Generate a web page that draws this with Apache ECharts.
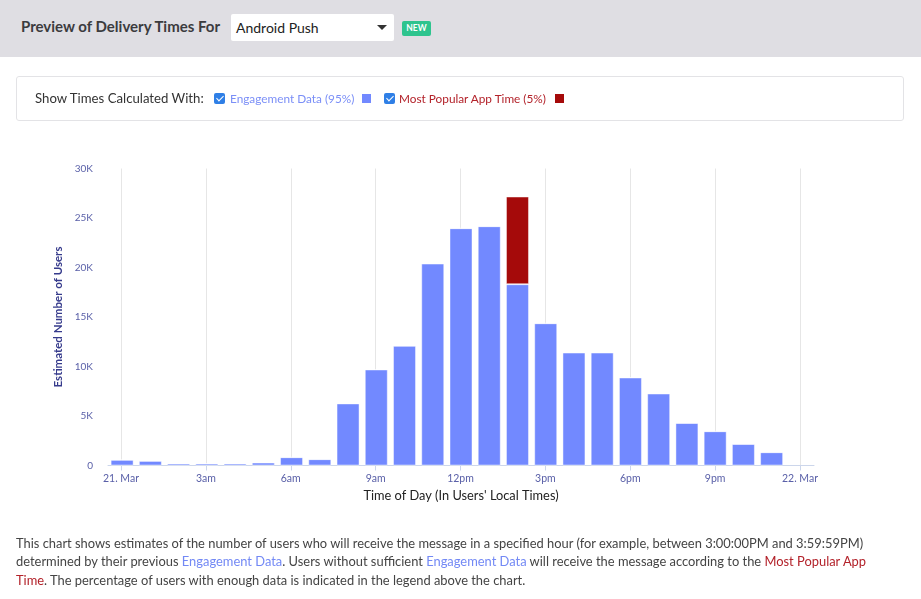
<!DOCTYPE html>
<html>
<head>
<meta charset="utf-8">
<script src="https://cdn.jsdelivr.net/npm/echarts@6/dist/echarts.min.js"></script>
<style>
  html, body { margin: 0; padding: 0; width: 921px; height: 599px; background: #fff; overflow: hidden; font-family: Lato, "Noto Sans", sans-serif; }
  #chart { position: absolute; left: 0; top: 0; width: 921px; height: 599px; }
  .hdr { position: absolute; left: 0; top: 0; width: 921px; height: 57px; background: #dfdee3; }
  .hdr-title { position: absolute; left: 21px; top: 17px; font-size: 15px; font-weight: 700; color: #3b3b3e; white-space: nowrap; }
  .select { position: absolute; left: 231px; top: 14px; width: 163px; height: 27px; background: #fff; border-radius: 2px; }
  .select span { position: absolute; left: 5px; top: 5px; font-size: 14px; color: #222; white-space: nowrap; }
  .caret { position: absolute; left: 146px; top: 11px; width: 0; height: 0; border-left: 5px solid transparent; border-right: 5px solid transparent; border-top: 5px solid #333; }
  .badge { position: absolute; left: 402px; top: 21px; width: 29px; height: 15px; background: #2ec48e; border-radius: 2px; color: #fff; font-size: 8.5px; font-weight: 700; text-align: center; line-height: 15px; }
  .legend { position: absolute; left: 16px; top: 76px; width: 888px; height: 45px; border: 1px solid #e3e3e6; border-radius: 3px; box-sizing: border-box; }
  .lg { position: absolute; top: 91px; font-size: 11.8px; white-space: nowrap; line-height: 16px; }
  .cb { position: absolute; top: 93px; width: 11px; height: 11px; background: #2f7fe6; border-radius: 2px; }
  .cb::after { content: ""; position: absolute; left: 3.5px; top: 1px; width: 3px; height: 6px; border: solid #fff; border-width: 0 1.5px 1.5px 0; transform: rotate(45deg); }
  .sq { position: absolute; top: 94px; width: 9px; height: 9px; }
  .foot { position: absolute; left: 16px; top: 534px; font-size: 12.9px; line-height: 18.4px; color: #444; white-space: nowrap; }
  .b { color: #7389f5; }
  .r { color: #b3222a; }
</style>
</head>
<body>
<div id="chart"></div>
<div class="hdr">
  <div class="hdr-title">Preview of Delivery Times For</div>
  <div class="select"><span>Android Push</span><div class="caret"></div></div>
  <div class="badge">NEW</div>
</div>
<div class="legend"></div>
<div class="lg" style="left:35px;top:90px;color:#333;font-size:13.2px;">Show Times Calculated With:</div>
<div class="cb" style="left:214px;"></div>
<div class="lg" style="left:230px;color:#7b8ff7;">Engagement Data (95%)</div>
<div class="sq" style="left:362px;background:#7289ff;"></div>
<div class="cb" style="left:384px;"></div>
<div class="lg" style="left:399px;color:#b3222a;">Most Popular App Time (5%)</div>
<div class="sq" style="left:555px;background:#a50a0a;"></div>
<div class="foot">
This chart shows estimates of the number of users who will receive the message in a specified hour (for example, between 3:00:00PM and 3:59:59PM)<br>
determined by their previous <span class="b">Engagement Data</span>. Users without sufficient <span class="b">Engagement Data</span> will receive the message according to the <span class="r">Most Popular App</span><br>
<span class="r">Time</span>. The percentage of users with enough data is indicated in the legend above the chart.
</div>
<script>
var hours = ['0','1','2','3','4','5','6','7','8','9','10','11','12','13','14','15','16','17','18','19','20','21','22','23','24'];
var tickLabels = ['21. Mar','3am','6am','9am','12pm','3pm','6pm','9pm','22. Mar'];
var engagementData = [580,475,200,200,200,300,840,640,6270,9700,12100,20400,23970,24170,18310,14370,11410,11410,8890,7270,4300,3460,2180,1340];
var popularAppTime = [0,0,0,0,0,0,0,0,0,0,0,0,0,0,8860,0,0,0,0,0,0,0,0,0];
var yTickLabels = ['0','5K','10K','15K','20K','25K','30K'];

var chart = echarts.init(document.getElementById('chart'), null, {renderer: 'canvas'});
var fontFam = 'Lato, "Noto Sans", sans-serif';
chart.setOption({
  animation: false,
  grid: [
    {left: 108, right: 107, top: 168.5, bottom: 133.5},
    {left: 121, right: 121, top: 168.5, bottom: 133.5}
  ],
  xAxis: [
    {
      type: 'category', gridIndex: 0, data: hours, boundaryGap: true,
      axisLine: {show: true, lineStyle: {color: '#ccd6eb', width: 1}},
      axisTick: {show: false}, axisLabel: {show: false}, splitLine: {show: false},
      name: "Time of Day (In Users' Local Times)", nameLocation: 'middle', nameGap: 24,
      nameTextStyle: {color: '#222', fontSize: 12.8, fontFamily: fontFam}
    },
    {
      type: 'value', gridIndex: 1, min: 0, max: 24, interval: 3,
      axisLine: {show: false},
      axisTick: {show: true, length: 5, lineStyle: {color: '#ccd6eb'}},
      axisLabel: {show: true, margin: 8, color: '#5a60a8', fontSize: 10.5, fontFamily: fontFam,
        formatter: function (v) { return tickLabels[Math.round(v / 3)]; }},
      splitLine: {show: true, lineStyle: {color: '#e6e6e6', width: 1}}
    }
  ],
  yAxis: [
    {
      type: 'value', gridIndex: 0, min: 0, max: 30000, interval: 5000,
      axisLine: {show: false}, axisTick: {show: false}, splitLine: {show: false},
      axisLabel: {margin: 15, color: '#5a60a8', fontSize: 10, fontFamily: fontFam,
        formatter: function (v) { return yTickLabels[Math.round(v / 5000)]; }},
      name: 'Estimated Number of Users', nameLocation: 'middle', nameGap: 38,
      nameTextStyle: {color: '#363b8c', fontSize: 11.5, fontWeight: 700, fontFamily: fontFam}
    },
    {
      type: 'value', gridIndex: 1, min: 0, max: 30000, show: false
    }
  ],
  series: [
    {
      name: 'Engagement Data', type: 'bar', xAxisIndex: 0, yAxisIndex: 0, stack: 'total',
      barWidth: 23, data: engagementData,
      itemStyle: {color: '#7289ff', borderColor: 'rgba(255,255,255,0.45)', borderWidth: 1}
    },
    {
      name: 'Most Popular App Time', type: 'bar', xAxisIndex: 0, yAxisIndex: 0, stack: 'total',
      barWidth: 23, data: popularAppTime,
      itemStyle: {color: '#a50a0a', borderColor: 'rgba(255,255,255,0.45)', borderWidth: 1}
    }
  ]
});
</script>
</body>
</html>
